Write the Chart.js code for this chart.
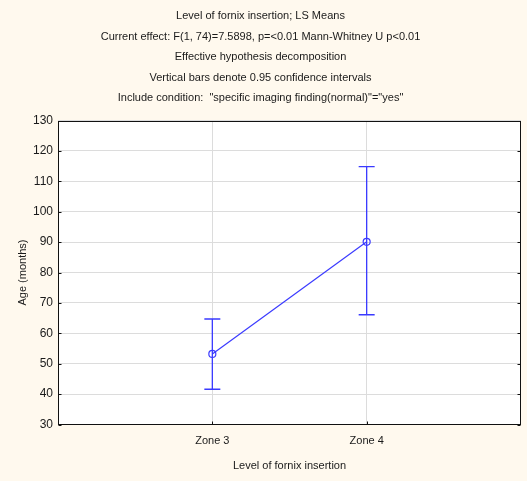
<!DOCTYPE html>
<html>
<head>
<meta charset="utf-8">
<script src="https://cdn.jsdelivr.net/npm/chart.js@4"></script>
<style>
  html, body { margin: 0; padding: 0; background: #FFF9EE; }
  #wrap { width: 527px; height: 481px; position: relative; }
</style>
</head>
<body>
<div id="wrap"><canvas id="chart" width="527" height="481"></canvas></div>
<script>
// Least-squares means of age by level of fornix insertion, with 95% CIs
const categories = ['Zone 3', 'Zone 4'];
const means = [53.2, 90.1];
const ciLower = [41.6, 66.1];
const ciUpper = [64.7, 114.8];
const titleLines = [
  'Level of fornix insertion; LS Means',
  'Current effect: F(1, 74)=7.5898, p=<0.01 Mann-Whitney U p<0.01',
  'Effective hypothesis decomposition',
  'Vertical bars denote 0.95 confidence intervals',
  'Include condition:  "specific imaging finding(normal)"="yes"'
];
const yAxisTitle = 'Age (months)';
const xAxisTitle = 'Level of fornix insertion';

const FONT = "'Liberation Sans', Arial, sans-serif";
const BLUE = '#3a3aff';
const TEXT = '#1a1a1a';

const points = categories.map((c, i) => ({ x: i + 1, y: means[i] }));

const plotDecor = {
  id: 'plotDecor',
  beforeDraw(chart) {
    const { ctx, chartArea: a } = chart;
    ctx.save();
    ctx.fillStyle = '#FFF9EE';
    ctx.fillRect(0, 0, chart.width, chart.height);
    ctx.fillStyle = '#ffffff';
    ctx.fillRect(a.left, a.top, a.right - a.left, a.bottom - a.top);
    ctx.restore();
  },
  afterDatasetsDraw(chart) {
    const { ctx, chartArea: a, scales } = chart;
    const xs = scales.x, ys = scales.y;
    ctx.save();
    // confidence interval whiskers
    ctx.strokeStyle = BLUE;
    ctx.lineWidth = 1.3;
    categories.forEach((c, i) => {
      const px = xs.getPixelForValue(i + 1);
      const yl = ys.getPixelForValue(ciLower[i]);
      const yu = ys.getPixelForValue(ciUpper[i]);
      const cap = 8;
      ctx.beginPath();
      ctx.moveTo(px, yl); ctx.lineTo(px, yu);
      ctx.moveTo(px - cap, yl); ctx.lineTo(px + cap, yl);
      ctx.moveTo(px - cap, yu); ctx.lineTo(px + cap, yu);
      ctx.stroke();
    });
    // plot frame and inner tick marks
    ctx.strokeStyle = '#111';
    ctx.lineWidth = 1;
    const L = Math.round(a.left) + 0.5, R = Math.round(a.right) - 0.5;
    const T = Math.round(a.top) + 0.5, B = Math.round(a.bottom) - 0.5;
    ctx.strokeRect(L, T, R - L, B - T);
    ctx.beginPath();
    ys.ticks.forEach(t => {
      const py = Math.round(ys.getPixelForValue(t.value)) + 0.5;
      ctx.moveTo(L, py); ctx.lineTo(L + 3, py);
      ctx.moveTo(R, py); ctx.lineTo(R - 3, py);
    });
    xs.ticks.forEach(t => {
      const px = Math.round(xs.getPixelForValue(t.value)) + 0.5;
      ctx.moveTo(px, B); ctx.lineTo(px, B - 3);
    });
    ctx.stroke();
    ctx.restore();
  }
};

new Chart(document.getElementById('chart'), {
  type: 'line',
  data: {
    datasets: [{
      data: points,
      borderColor: BLUE,
      borderWidth: 1.2,
      pointStyle: 'circle',
      pointRadius: 3.5,
      pointBorderColor: BLUE,
      pointBackgroundColor: 'rgba(0,0,0,0)',
      pointBorderWidth: 1.2,
      tension: 0
    }]
  },
  options: {
    responsive: false,
    animation: false,
    devicePixelRatio: 1,
    layout: { padding: { left: 0, right: 6, top: 0, bottom: 0 } },
    plugins: {
      legend: { display: false },
      tooltip: { enabled: false },
      title: {
        display: true,
        text: titleLines,
        color: TEXT,
        font: { family: FONT, size: 11, weight: 'normal', lineHeight: '20.5px' },
        padding: { top: 6, bottom: 12 }
      }
    },
    scales: {
      x: {
        type: 'linear',
        min: 0,
        max: 3,
        afterBuildTicks(scale) {
          scale.ticks = categories.map((c, i) => ({ value: i + 1 }));
        },
        afterFit(scale) { scale.height = 56.5; },
        ticks: {
          callback: (v) => categories[v - 1] || '',
          color: TEXT,
          font: { family: FONT, size: 11 },
          padding: 10,
          maxRotation: 0
        },
        grid: { color: '#dcdcdc', drawTicks: false },
        border: { display: false },
        title: {
          display: true,
          text: xAxisTitle,
          color: TEXT,
          font: { family: FONT, size: 11 },
          padding: { top: 0, bottom: 8 }
        }
      },
      y: {
        min: 30,
        max: 130,
        afterFit(scale) { scale.width = 58; },
        ticks: {
          stepSize: 10,
          color: TEXT,
          font: { family: FONT, size: 12 },
          padding: 5
        },
        grid: { color: '#dcdcdc', drawTicks: false },
        border: { display: false },
        title: {
          display: true,
          text: yAxisTitle,
          color: TEXT,
          font: { family: FONT, size: 11 },
          padding: { top: 16, bottom: 0 }
        }
      }
    }
  },
  plugins: [plotDecor]
});
</script>
</body>
</html>
